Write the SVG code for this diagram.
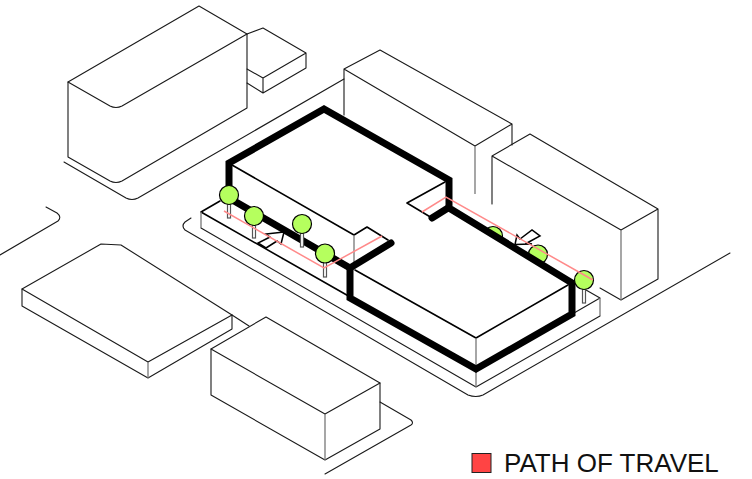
<svg xmlns="http://www.w3.org/2000/svg" width="752" height="479" viewBox="0 0 752 479">
<style>
.l{fill:none;stroke:#1a1a1a;stroke-width:1.1;stroke-linejoin:round;stroke-linecap:round}
.b{fill:none;stroke:#000;stroke-width:1.6;stroke-linejoin:round;stroke-linecap:round}
.g{fill:none;stroke:#777;stroke-width:1.3}
.w{fill:#fff;stroke:none}
.t{fill:none;stroke:#000;stroke-width:7;stroke-linejoin:miter;stroke-linecap:butt}
.r{fill:none;stroke:#000;stroke-width:7;stroke-linecap:round}
.p{fill:none;stroke:#ff8a8a;stroke-width:1.5;stroke-linejoin:miter}
.c{fill:#b5ff5e;stroke:#000;stroke-width:1.2}
.s{fill:#fff;stroke:#555;stroke-width:1.2}
.a{fill:#fff;stroke:#000;stroke-width:1.5;stroke-linejoin:miter}
</style>
<g id="roads">
<path class="l" d="M0 255L58 221Q62 217 57 213L46 207"/>
<path class="l" d="M64 162L126 198Q132 201 138 198L344 79"/>
<path class="l" d="M191 218L185 222Q181 226 185 230L468 395Q476 398 483 395L730 253"/>
<path class="l" d="M380 402L411 420Q414 423 411 425L325 474"/>
<path class="l" d="M232 315L249 326"/>
</g>
<g id="building-nw">
<path class="l" d="M247 34L263 28L306 53V68L263 93L247 83M247 69L263 78L306 53M263 78V93"/>
<path class="l" d="M68 82L199 6L247 34V108L122 181Q116 184 110 181L68 157Z"/>
<path class="l" d="M68 82L110 106Q116 109 122 106L247 34"/>
</g>
<g id="building-w">
<path class="l" d="M22 289L101 244L121 245L232 315V329L148 378L22 306Z"/>
<path class="l" d="M22 289L148 362L232 315"/>
<path class="g" d="M148 362V378"/>
</g>
<g id="building-s">
<path class="l" d="M211 349L266 317L380 383V429L325 460L211 395Z"/>
<path class="l" d="M211 349L325 414L380 383"/>
<path class="g" d="M325 414V460"/>
</g>
<g id="building-n">
<path class="l" d="M344 69L380 50L512 124V145M344 69L475 146L512 124M344 69V115"/>
<path class="g" d="M475 146V194"/>
</g>
<g id="building-e">
<path class="l" d="M492 204V156L530 134L658 209V279L621 300L600 288M492 156L621 230L658 209"/>
<path class="g" d="M621 230V300"/>
</g>
<g id="sidewalk">
<path class="b" d="M201 212L220 201M201 212L352 298"/>
<path class="l" d="M201 228L476 387L600 316M574 313L600 298L586 290"/>
<path class="g" d="M201 212V228M600 298V316"/>
</g>
<g id="tree-back-a"><circle class="c" cx="493" cy="236" r="9.5"/></g>
<g id="tree-back-b"><circle class="c" cx="538" cy="254.5" r="9.5"/></g>
<g id="main-building">
<path class="w" d="M229 163L324 108L449 180V208L572 283V314L476 369L350 298V268L229 198Z"/>
<path class="b" d="M232 165L354 235L367 227L388 240M445 182L407 203L432 218M355 270L476 338L568 285"/>
<path class="g" d="M354 235V264M476 338V387"/>
</g>
<g id="connectors">
<path class="t" d="M229 200V163L324 109L449 180V208L572 283V314L476 369L350 298V266"/>
<path class="r" d="M229 198L350 268L391 243M448 208L432 218"/>
</g>
<g id="arrow-a"><path class="a" d="M284 232L266 234L270 237L258 243L266 248L277 241L281 244Z"/></g>
<g id="arrow-b"><path class="a" d="M515 244.5L517 235L520 239L532 230L540 236L527 243L532 244Z"/></g>
<g id="tree-1"><rect class="s" x="227.5" y="201" width="3" height="17"/><circle class="c" cx="229" cy="195" r="9.5"/></g>
<g id="tree-2"><rect class="s" x="252.5" y="222" width="3" height="16"/><circle class="c" cx="254" cy="216" r="9.5"/></g>
<g id="tree-3"><rect class="s" x="300.5" y="230" width="3" height="17"/><circle class="c" cx="302" cy="224" r="9.5"/></g>
<g id="tree-4"><rect class="s" x="323.5" y="260" width="3" height="17"/></g>
<g id="tree-5"><rect class="s" x="582.5" y="286" width="3" height="17"/><circle class="c" cx="584" cy="280" r="9.5"/></g>
<g id="path-of-travel">
<path class="p" d="M224 211L324 268L382 236M422 212L446 197L593 280"/>
</g>
<g id="tree-4-crown"><circle class="c" cx="325" cy="253.5" r="9.5"/></g>
<g id="legend">
<rect x="472" y="453.5" width="19" height="19" fill="#ff4444" stroke="#222" stroke-width="1"/>
<text x="504" y="472" font-family="Liberation Sans, Arial, sans-serif" font-size="26" fill="#111">PATH OF TRAVEL</text>
</g>
</svg>
